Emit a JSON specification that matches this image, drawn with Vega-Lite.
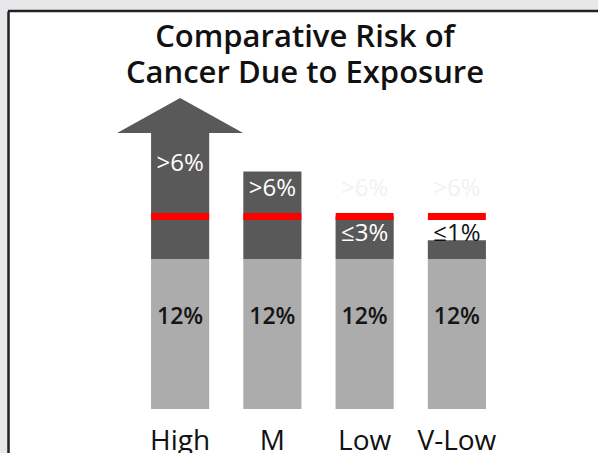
{
  "$schema": "https://vega.github.io/schema/vega-lite/v6.json",
  "width": 590,
  "height": 442,
  "autosize": {"type": "none"},
  "padding": {"left": 8, "top": 11, "right": 0, "bottom": 0},
  "background": "#e8e8eb",
  "view": {"fill": "white", "stroke": null},
  "config": {"font": "Open Sans", "axis": {"grid": false}},
  "title": {
    "text": ["Comparative Risk of", "Cancer Due to Exposure"],
    "fontSize": 31,
    "fontWeight": 600,
    "font": "Open Sans",
    "color": "#111111",
    "lineHeight": 36,
    "anchor": "middle",
    "baseline": "alphabetic",
    "offset": -104,
    "dx": 2
  },
  "datasets": {
    "levels": [
      {"level": "High", "base": 12, "top": 22.1, "head": 23.48, "limit": 15.4, "baseLabel": "12%"},
      {"level": "M", "base": 12, "top": 19.0, "limit": 15.4, "baseLabel": "12%"},
      {"level": "Low", "base": 12, "top": 15.4, "limit": 15.4, "baseLabel": "12%"},
      {"level": "V-Low", "base": 12, "top": 13.5, "limit": 15.4, "baseLabel": "12%"}
    ],
    "labels": [
      {"level": "High", "text": ">6%", "pos": 19.6, "tone": "on dark"},
      {"level": "M", "text": ">6%", "pos": 17.6, "tone": "on dark"},
      {"level": "Low", "text": ">6%", "pos": 17.6, "tone": "ghost"},
      {"level": "V-Low", "text": ">6%", "pos": 17.6, "tone": "ghost"},
      {"level": "Low", "text": "≤3%", "pos": 14.04, "tone": "on dark"},
      {"level": "V-Low", "text": "≤1%", "pos": 14.04, "tone": "on white"}
    ],
    "frame": [{"edge": "top"}]
  },
  "layer": [
    {
      "data": {"name": "levels"},
      "mark": {"type": "bar", "color": "#acacac"},
      "encoding": {
        "x": {
          "field": "level", "type": "nominal", "sort": ["High", "M", "Low", "V-Low"],
          "scale": {"range": [126, 495], "paddingInner": 0.37, "paddingOuter": 0.185},
          "axis": {"orient": "bottom", "domain": false, "ticks": false, "labelAngle": 0,
                   "labelFont": "Open Sans", "labelFontSize": 28, "labelColor": "#111111",
                   "labelBaseline": "alphabetic", "labelPadding": -4, "title": null, "labelOverlap": false}
        },
        "y": {
          "field": "base", "type": "quantitative", "title": null,
          "scale": {"domain": [-3.52, 31.84], "nice": false, "zero": false},
          "axis": {"orient": "left", "domain": true, "domainColor": "#222222", "domainWidth": 2.5,
                   "ticks": false, "labels": false, "grid": false, "title": null}
        },
        "y2": {"datum": 0}
      }
    },
    {
      "data": {"name": "levels"},
      "mark": {"type": "bar", "color": "#595959"},
      "encoding": {
        "x": {"field": "level", "type": "nominal", "sort": ["High", "M", "Low", "V-Low"]},
        "y": {"field": "top", "type": "quantitative", "title": null},
        "y2": {"field": "base"}
      }
    },
    {
      "data": {"name": "levels"},
      "mark": {"type": "point", "filled": true, "opacity": 1, "color": "#595959",
               "shape": "M-1,0.2778L1,0.2778L0,-0.2778Z", "size": 15876, "strokeWidth": 0},
      "encoding": {
        "x": {"field": "level", "type": "nominal", "sort": ["High", "M", "Low", "V-Low"]},
        "y": {"field": "head", "type": "quantitative", "title": null}
      }
    },
    {
      "data": {"name": "levels"},
      "mark": {"type": "tick", "color": "#ff0000", "thickness": 7, "size": 58, "opacity": 1},
      "encoding": {
        "x": {"field": "level", "type": "nominal", "sort": ["High", "M", "Low", "V-Low"]},
        "y": {"field": "limit", "type": "quantitative", "title": null}
      }
    },
    {
      "data": {"name": "levels"},
      "mark": {"type": "text", "font": "Open Sans", "fontSize": 23, "fontWeight": 600,
               "color": "#151515", "baseline": "middle", "align": "center"},
      "encoding": {
        "x": {"field": "level", "type": "nominal", "sort": ["High", "M", "Low", "V-Low"]},
        "y": {"datum": 7.36, "type": "quantitative", "title": null},
        "text": {"field": "baseLabel"}
      }
    },
    {
      "data": {"name": "labels"},
      "mark": {"type": "text", "font": "Open Sans", "fontSize": 24,
               "baseline": "middle", "align": "center"},
      "encoding": {
        "x": {"field": "level", "type": "nominal", "sort": ["High", "M", "Low", "V-Low"]},
        "y": {"field": "pos", "type": "quantitative", "title": null},
        "text": {"field": "text"},
        "color": {"field": "tone", "type": "nominal", "legend": null,
                  "scale": {"domain": ["on dark", "ghost", "on white"], "range": ["#ffffff", "#f5f0f0", "#111111"]}}
      }
    },
    {
      "data": {"name": "frame"},
      "mark": {"type": "rule", "color": "#222222", "strokeWidth": 2.5},
      "encoding": {
        "y": {"datum": 31.84, "type": "quantitative", "title": null}
      }
    }
  ]
}
